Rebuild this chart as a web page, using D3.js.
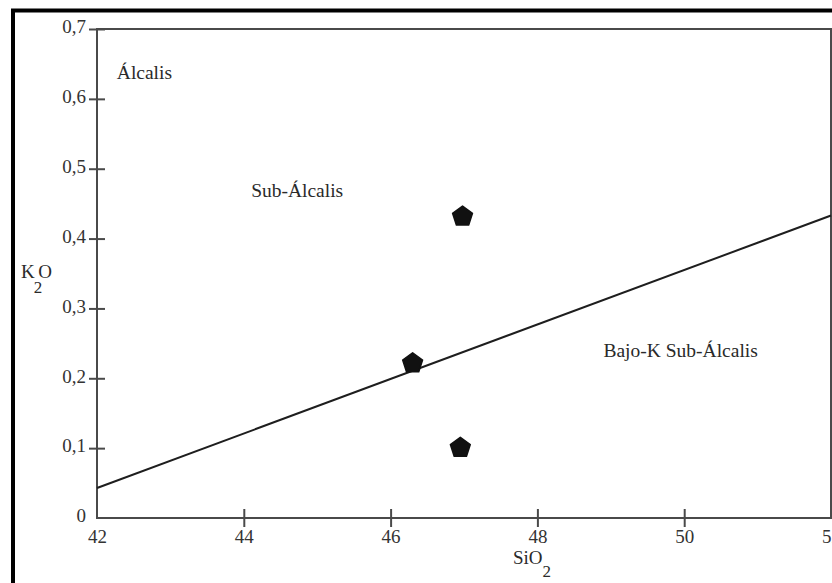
<!DOCTYPE html>
<html>
<head>
<meta charset="utf-8">
<script src="https://cdn.jsdelivr.net/npm/d3@7"></script>
<style>
  body { margin: 0; background: #fff; }
  svg { display: block; font-family: "Liberation Serif", "Times New Roman", serif; }
  .axis path, .axis line { stroke: #4a4a4a; stroke-width: 2; }
  .axis text { font-size: 19px; fill: #333; font-family: "Liberation Serif", serif; }
</style>
</head>
<body>
<div id="chart"></div>
<script>
// Data
const xTicks = [42, 44, 46, 48, 50, 52];
const yTicks = [0, 0.1, 0.2, 0.3, 0.4, 0.5, 0.6, 0.7];
const yTickLabels = ["0", "0,1", "0,2", "0,3", "0,4", "0,5", "0,6", "0,7"];
const sio2 = [46.98, 46.30, 46.95];
const k2o = [0.433, 0.223, 0.102];
const boundarySiO2 = [42, 52];
const boundaryK2O = [0.043, 0.433];
const fieldNames = ["Álcalis", "Sub-Álcalis", "Bajo-K Sub-Álcalis"];
const fieldSiO2 = [42.27, 44.1, 48.9];
const fieldK2O = [0.628, 0.46, 0.230];

const width = 832, height = 583;
const margin = {top: 29, right: 1, bottom: 65, left: 97};

const svg = d3.select("#chart").append("svg")
    .attr("width", width)
    .attr("height", height);

// Outer frame (only top and left visible in the picture)
svg.append("rect")
    .attr("x", 13).attr("y", 10.5)
    .attr("width", width + 20).attr("height", height + 20)
    .attr("fill", "none")
    .attr("stroke", "#000")
    .attr("stroke-width", 4);

const x = d3.scaleLinear().domain([42, 52]).range([margin.left, width - margin.right]);
const y = d3.scaleLinear().domain([0, 0.7]).range([height - margin.bottom, margin.top]);

// Plot frame
svg.append("rect")
    .attr("x", x(42)).attr("y", y(0.7))
    .attr("width", x(52) - x(42)).attr("height", y(0) - y(0.7))
    .attr("fill", "none")
    .attr("stroke", "#4a4a4a")
    .attr("stroke-width", 2);

// Axes, ticks crossing the axis line
const xAxis = d3.axisBottom(x).tickValues(xTicks).tickSizeInner(8).tickSizeOuter(0)
    .tickFormat(d3.format("d"));
const gx = svg.append("g")
    .attr("class", "axis")
    .attr("transform", "translate(0," + y(0) + ")")
    .call(xAxis);
gx.select(".domain").remove();
gx.selectAll(".tick line").attr("y1", -9).attr("y2", 9);
gx.selectAll(".tick text").attr("y", 12).attr("dy", "0.71em");

const yAxis = d3.axisLeft(y).tickValues(yTicks).tickSizeInner(8).tickSizeOuter(0)
    .tickFormat((d, i) => yTickLabels[i]);
const gy = svg.append("g")
    .attr("class", "axis")
    .attr("transform", "translate(" + x(42) + ",0)")
    .call(yAxis);
gy.select(".domain").remove();
gy.selectAll(".tick line").attr("x1", -8).attr("x2", 8);
gy.selectAll(".tick text").attr("x", -11).attr("dy", "0.2em");
gy.selectAll(".tick").filter(d => d === 0).select("line").remove();
gx.selectAll(".tick").filter(d => d === 42 || d === 52).select("line").remove();

// Boundary line
const line = d3.line().x(d => x(d[0])).y(d => y(d[1]));
svg.append("path")
    .attr("d", line(boundarySiO2.map((s, i) => [s, boundaryK2O[i]])))
    .attr("fill", "none")
    .attr("stroke", "#1e1e1e")
    .attr("stroke-width", 2);

// Field names
svg.selectAll(".field")
    .data(fieldNames)
  .enter().append("text")
    .attr("class", "field")
    .attr("x", (d, i) => x(fieldSiO2[i]))
    .attr("y", (d, i) => y(fieldK2O[i]))
    .attr("font-size", 19.5)
    .attr("fill", "#2a2a2a")
    .text(d => d);

// Pentagon symbol
const pentagon = {
    draw(context, size) {
        const r = Math.sqrt(size / 2.378);
        for (let k = 0; k < 5; k++) {
            const a = -Math.PI / 2 + k * 2 * Math.PI / 5;
            const px = r * Math.cos(a), py = r * Math.sin(a);
            if (k === 0) context.moveTo(px, py); else context.lineTo(px, py);
        }
        context.closePath();
    }
};

svg.selectAll(".pt")
    .data(sio2)
  .enter().append("path")
    .attr("class", "pt")
    .attr("transform", (d, i) => "translate(" + x(d) + "," + (y(k2o[i]) + 1) + ")")
    .attr("d", d3.symbol().type(pentagon).size(260))
    .attr("fill", "#111")
    .attr("stroke", "#111")
    .attr("stroke-width", 1.5)
    .attr("stroke-linejoin", "round");

// Axis titles
const xt = svg.append("text")
    .attr("x", 513).attr("y", 564)
    .attr("font-size", 19)
    .attr("fill", "#2a2a2a");
xt.append("tspan").text("SiO");
xt.append("tspan").attr("dy", 13).attr("font-size", 17).text("2");

const yt = svg.append("text")
    .attr("x", 21).attr("y", 278)
    .attr("font-size", 19)
    .attr("fill", "#2a2a2a");
yt.append("tspan").text("K");
yt.append("tspan").attr("dy", 15).attr("dx", -1).attr("font-size", 17).text("2");
yt.append("tspan").attr("dy", -15).attr("dx", -4).text("O");
</script>
</body>
</html>
